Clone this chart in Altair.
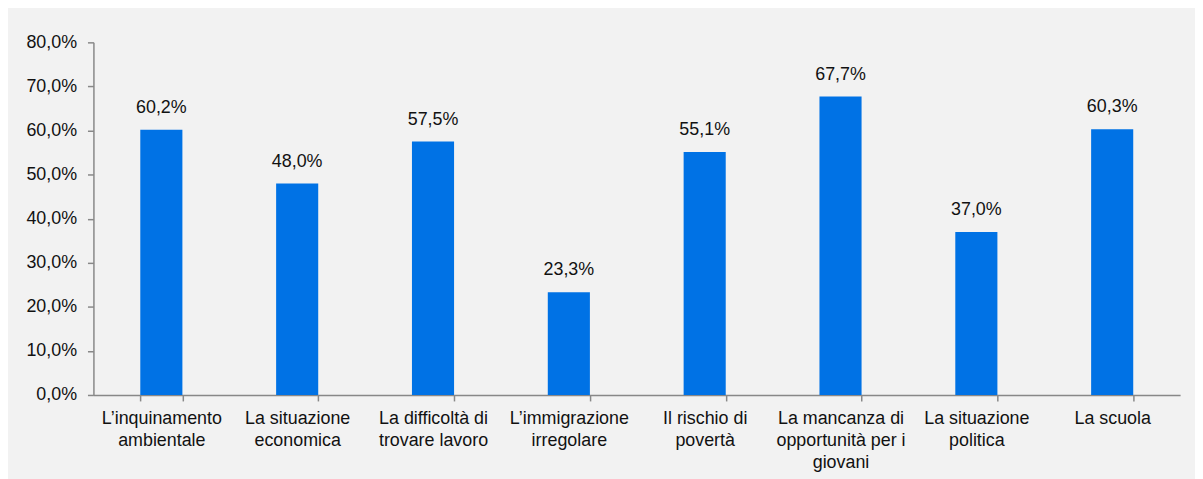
import altair as alt
import pandas as pd

categories = [
    "L’inquinamento|ambientale",
    "La situazione|economica",
    "La difficoltà di|trovare lavoro",
    "L’immigrazione|irregolare",
    "Il rischio di|povertà",
    "La mancanza di|opportunità per i|giovani",
    "La situazione|politica",
    "La scuola",
]
values = [60.2, 48.0, 57.5, 23.3, 55.1, 67.7, 37.0, 60.3]
y_ticks = [0, 10, 20, 30, 40, 50, 60, 70, 80]

df = pd.DataFrame({"cat": categories, "value": values})

FONT = "Liberation Sans"
AXIS_COLOR = "#888888"

x_enc = alt.X(
    "cat:N",
    sort=None,
    scale=alt.Scale(paddingInner=0.69, paddingOuter=0.345),
    axis=alt.Axis(
        title=None,
        labelAngle=0,
        labelExpr="split(datum.label, '|')",
        labelFont=FONT,
        labelFontSize=18,
        labelColor="#111111",
        labelLineHeight=22,
        labelPadding=9,
        labelBaseline="top",
        labelLimit=0,
        tickBand="extent",
        tickSize=6,
        tickColor=AXIS_COLOR,
        tickWidth=1.5,
        domainColor=AXIS_COLOR,
        domainWidth=1.5,
    ),
)

y_enc = alt.Y(
    "value:Q",
    scale=alt.Scale(domain=[0, 80], nice=False),
    axis=alt.Axis(
        title=None,
        values=y_ticks,
        grid=False,
        labelExpr="replace(format(datum.value, '.1f'), '.', ',') + '%'",
        labelFont=FONT,
        labelFontSize=18,
        labelColor="#111111",
        labelPadding=11,
        tickSize=6,
        tickColor=AXIS_COLOR,
        tickWidth=1.5,
        domainColor=AXIS_COLOR,
        domainWidth=1.5,
    ),
)

base = alt.Chart(df).encode(x=x_enc, y=y_enc)

bars = base.mark_bar(color="#0072e5")

labels = base.transform_calculate(
    lbl="replace(format(datum.value, '.1f'), '.', ',') + '%'"
).mark_text(
    baseline="alphabetic", dy=-17, font=FONT, fontSize=18, color="#111111"
).encode(text="lbl:N")

chart = (
    (bars + labels)
    .properties(
        width=1094,
        height=355,
        background="#f2f2f2",
        padding={"left": 86, "top": 33, "right": 15, "bottom": 83},
        autosize=alt.AutoSizeParams(type="none"),
    )
    .configure_view(stroke=None)
)

chart.save("out.html", embed_options={"renderer": "svg", "actions": False})
